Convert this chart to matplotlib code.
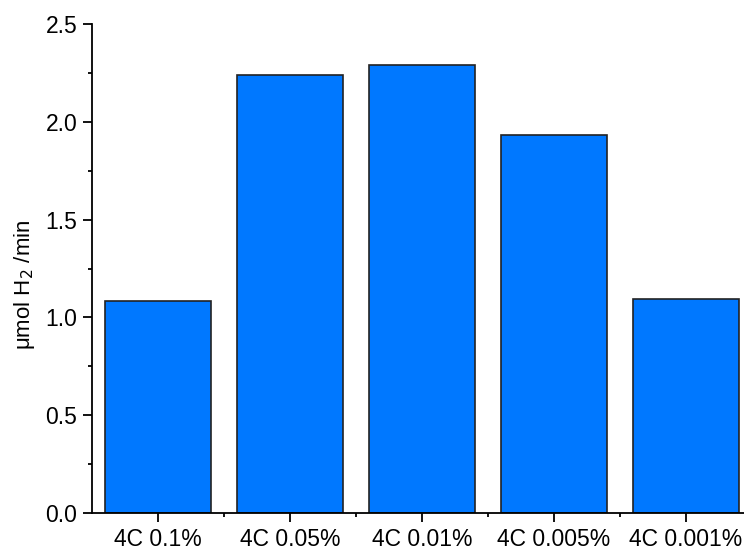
import matplotlib.pyplot as plt
import numpy as np
from matplotlib.ticker import MultipleLocator, FixedLocator

plt.rcParams['font.family'] = ['Liberation Sans', 'DejaVu Sans']

samples = ['4C 0.1%', '4C 0.05%', '4C 0.01%', '4C 0.005%', '4C 0.001%']
rates = [1.085, 2.241, 2.289, 1.934, 1.096]

fig = plt.figure(figsize=(7.44, 5.51), dpi=100)
ax = fig.add_axes([92/744, 1-513/551, (744-92)/744, (513-24)/551])

x = np.arange(len(samples))
ax.bar(x, rates, width=0.8, color='#0078ff', edgecolor='#222222', linewidth=1.2)

ax.set_xlim(-0.5, 4.44)
ax.set_ylim(0, 2.5)
ax.set_xticks(x)
ax.set_xticklabels(samples)
ax.xaxis.set_minor_locator(FixedLocator(x[:-1] + 0.5))
ax.yaxis.set_major_locator(MultipleLocator(0.5))
ax.yaxis.set_minor_locator(MultipleLocator(0.25))
ax.yaxis.set_major_formatter(plt.FormatStrFormatter('%.1f'))

ax.spines['top'].set_visible(False)
ax.spines['right'].set_visible(False)
for s in ['left', 'bottom']:
    ax.spines[s].set_linewidth(1.3)
ax.tick_params(which='major', direction='out', length=6.5, width=1.3, labelsize=16.5, pad=4)
ax.tick_params(which='minor', direction='out', length=3.2, width=1.3)

ax.set_ylabel('μmol H$_2$ /min', fontsize=16)
ax.yaxis.set_label_coords(-0.085, 0.466)

fig.savefig('out.png', dpi=100)
